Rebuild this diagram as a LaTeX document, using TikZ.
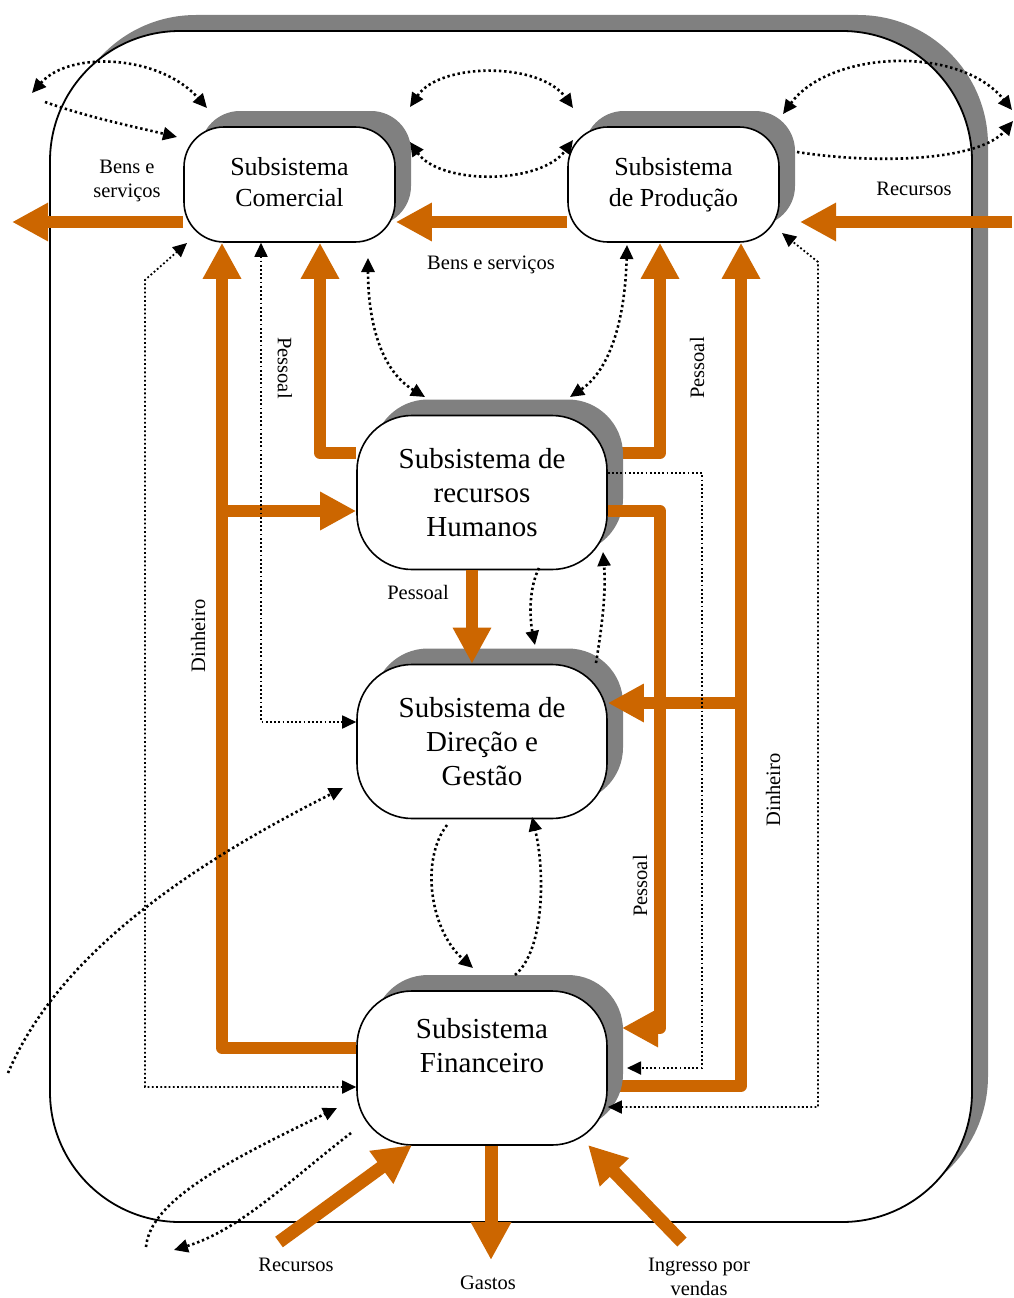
\documentclass[tikz,border=0pt]{standalone}
\usepackage{fontspec}
\setmainfont{Liberation Serif}
\usetikzlibrary{arrows.meta,shadows}
\definecolor{orng}{RGB}{204,102,0}
\definecolor{shgray}{RGB}{128,128,128}
\pgfdeclarelayer{outer}
\pgfdeclarelayer{under}
\pgfsetlayers{outer,under,main}
\begin{document}
\begin{tikzpicture}[x=1pt,y=-1pt,
  >={Triangle[length=14pt,width=13pt]},
  shad/.style={general shadow={fill=shgray, shadow xshift=16pt, shadow yshift=16pt}},
  box/.style={draw=black, line width=1.6pt, fill=white, rounded corners=#1, align=center, inner sep=0pt, shad},
  smallbox/.style={box=40pt, minimum width=211pt, minimum height=115pt, font=\fontsize{26}{31}\selectfont},
  bigbox/.style={box=55pt, minimum width=250pt, minimum height=154pt, font=\fontsize{29}{34}\selectfont},
  flow/.style={draw=orng, line width=12pt, line join=round, -{Triangle[length=36pt,width=36pt]}},
  bigflow/.style={draw=orng, line width=13pt, -{Triangle[length=38pt,width=38pt]}},
  dots/.style={line width=2.6pt, dash pattern=on 2.4pt off 2.8pt},
  thindots/.style={line width=1.8pt, dash pattern=on 1.8pt off 2.4pt},
  lbl/.style={font=\fontsize{20.5}{24}\selectfont, align=center, inner sep=0pt}]
\useasboundingbox (0,0) rectangle (1014,1298);

% subsystems
\node[smallbox] (com) at (289.5,184.5) {Subsistema\\Comercial\\[-25pt]};
\node[smallbox] (prod) at (673.5,184.5) {Subsistema\\de Produção\\[-25pt]};
\node[bigbox] (rh) at (482,492.5) {Subsistema de\\recursos\\Humanos};
\node[bigbox] (dir) at (482,741.5) {Subsistema de\\Direção e\\Gestão};
\node[bigbox] (fin) at (482,1068) {Subsistema\\Financeiro\\\strut};

% free ends
\coordinate (outL) at (12,222);
\coordinate (recR) at (1012,222);
\coordinate (recTip) at (800,222);
\coordinate (finPin) at (622,1028);
\coordinate (recB) at (279,1242);
\coordinate (recBtip) at (412,1145);
\coordinate (gasB) at (491,1260);
\coordinate (ingB) at (682,1242);
\coordinate (ingBtip) at (588,1145);

\begin{pgfonlayer}{outer}
  \filldraw[fill=white, draw=black, line width=1.8pt, rounded corners=130pt, shad] (50,31) rectangle (972,1222);
\end{pgfonlayer}

\begin{pgfonlayer}{under}
  \draw[flow] (fin.west |- 0,1048) -- (222,1048) -- (222,0 |- com.south);
  \draw[flow] (222,511) -- (rh.west |- 0,511);
  \draw[flow] (rh.west |- 0,453) -- (320,453) -- (320,0 |- com.south);
  \draw[flow] (rh.east |- 0,453) -- (660,453) -- (660,0 |- prod.south);
  \draw[flow] (fin.east |- 0,1086) -- (741,1086) -- (741,0 |- prod.south);
\end{pgfonlayer}

% orange flows over boxes
\draw[flow] (741,703) -- (dir.east |- 0,703);
\draw[flow] (rh.east |- 0,511) -- (660,511) -- (660,1028) -- (finPin);
\draw[flow] (472,0 |- rh.south) -- (472,0 |- dir.north);
\draw[flow] (com.west |- 0,222) -- (outL);
\draw[flow] (prod.west |- 0,222) -- (com.east |- 0,222);
\draw[flow] (recR) -- (recTip);
\draw[bigflow] (recB) -- (recBtip);
\draw[bigflow] (491,0 |- fin.south) -- (gasB);
\draw[bigflow] (ingB) -- (ingBtip);

% dotted connectors
\coordinate (a1) at (32,93);   \coordinate (a2) at (207,108);
\coordinate (b1) at (45,102);  \coordinate (b2) at (177,137);
\coordinate (c1) at (410,107); \coordinate (c2) at (573,108);
\coordinate (d1) at (410,142); \coordinate (d2) at (573,140);
\coordinate (e1) at (783,114); \coordinate (e2) at (1012,110);
\coordinate (f1) at (797,152); \coordinate (f2) at (1013,121);
\coordinate (h1) at (368,258); \coordinate (h2) at (425,397);
\coordinate (i1) at (627,245); \coordinate (i2) at (570,397);
\coordinate (comSW) at (187,243);
\coordinate (prodSE) at (782,233);
\coordinate (finE2) at (627,1068);
\coordinate (l1) at (539,568); \coordinate (l2) at (535,645);
\coordinate (m1) at (596,663); \coordinate (m2) at (603,552);
\coordinate (n1) at (447,825); \coordinate (n2) at (473,968);
\coordinate (o1) at (515,975); \coordinate (o2) at (532,817);
\coordinate (p1) at (8,1073);  \coordinate (p2) at (343,788);
\coordinate (q1) at (146,1247); \coordinate (q2) at (337,1108);
\coordinate (r1) at (351,1133); \coordinate (r2) at (174,1250);

\draw[dots,<->] (a1) .. controls (70,50) and (160,55) .. (a2);
\draw[dots,->] (b1) .. controls (90,118) and (140,128) .. (b2);
\draw[dots,<->] (c1) .. controls (440,62) and (540,62) .. (c2);
\draw[dots,<->] (d1) .. controls (440,185) and (540,185) .. (d2);
\draw[dots,<->] (e1) .. controls (830,50) and (960,45) .. (e2);
\draw[dots,->] (f1) .. controls (880,165) and (980,160) .. (f2);
\draw[thindots,<->] (fin.west |- 0,1087) -- (145,1087) -- (145,280) -- (comSW);
\draw[thindots,<->] (261,0 |- com.south) -- (261,722) -- (dir.west |- 0,722);
\draw[dots,<->] (h1) .. controls (368,320) and (380,370) .. (h2);
\draw[dots,<->] (i1) .. controls (625,320) and (610,370) .. (i2);
\draw[thindots,<->] (fin.east |- 0,1107) -- (818,1107) -- (818,262) -- (prodSE);
\draw[thindots,->] (rh.east |- 0,473) -- (702,473) -- (702,1068) -- (finE2);
\draw[dots,->] (l1) .. controls (528,590) and (530,620) .. (l2);
\draw[dots,->] (m1) .. controls (603,620) and (606,590) .. (m2);
\draw[dots,->] (n1) .. controls (420,860) and (430,930) .. (n2);
\draw[dots,->] (o1) .. controls (545,950) and (545,870) .. (o2);
\draw[dots,->] (p1) .. controls (60,950) and (200,860) .. (p2);
\draw[dots,->] (q1) .. controls (150,1200) and (230,1160) .. (q2);
\draw[dots,->] (r1) .. controls (290,1180) and (240,1230) .. (r2);

% labels
\node[lbl] (lbBS1) at (127,181) {Bens e\\serviços};
\node[lbl] (lbBS2) at (491,265) {Bens e serviços};
\node[lbl] (lbRec1) at (914,189) {Recursos};
\node[lbl, rotate=-90] (lbP1) at (285,368) {Pessoal};
\node[lbl, rotate=90] (lbP2) at (697,368) {Pessoal};
\node[lbl, rotate=90] (lbD1) at (198,636) {Dinheiro};
\node[lbl] (lbP3) at (418,592) {Pessoal};
\node[lbl, rotate=90] (lbD2) at (773,790) {Dinheiro};
\node[lbl, rotate=90] (lbP4) at (640,886) {Pessoal};
\node[lbl] (lbRec2) at (296,1265) {Recursos};
\node[lbl] (lbGas) at (488,1283) {Gastos};
\node[lbl] (lbIng) at (699,1277) {Ingresso por\\vendas};
\end{tikzpicture}
\end{document}
